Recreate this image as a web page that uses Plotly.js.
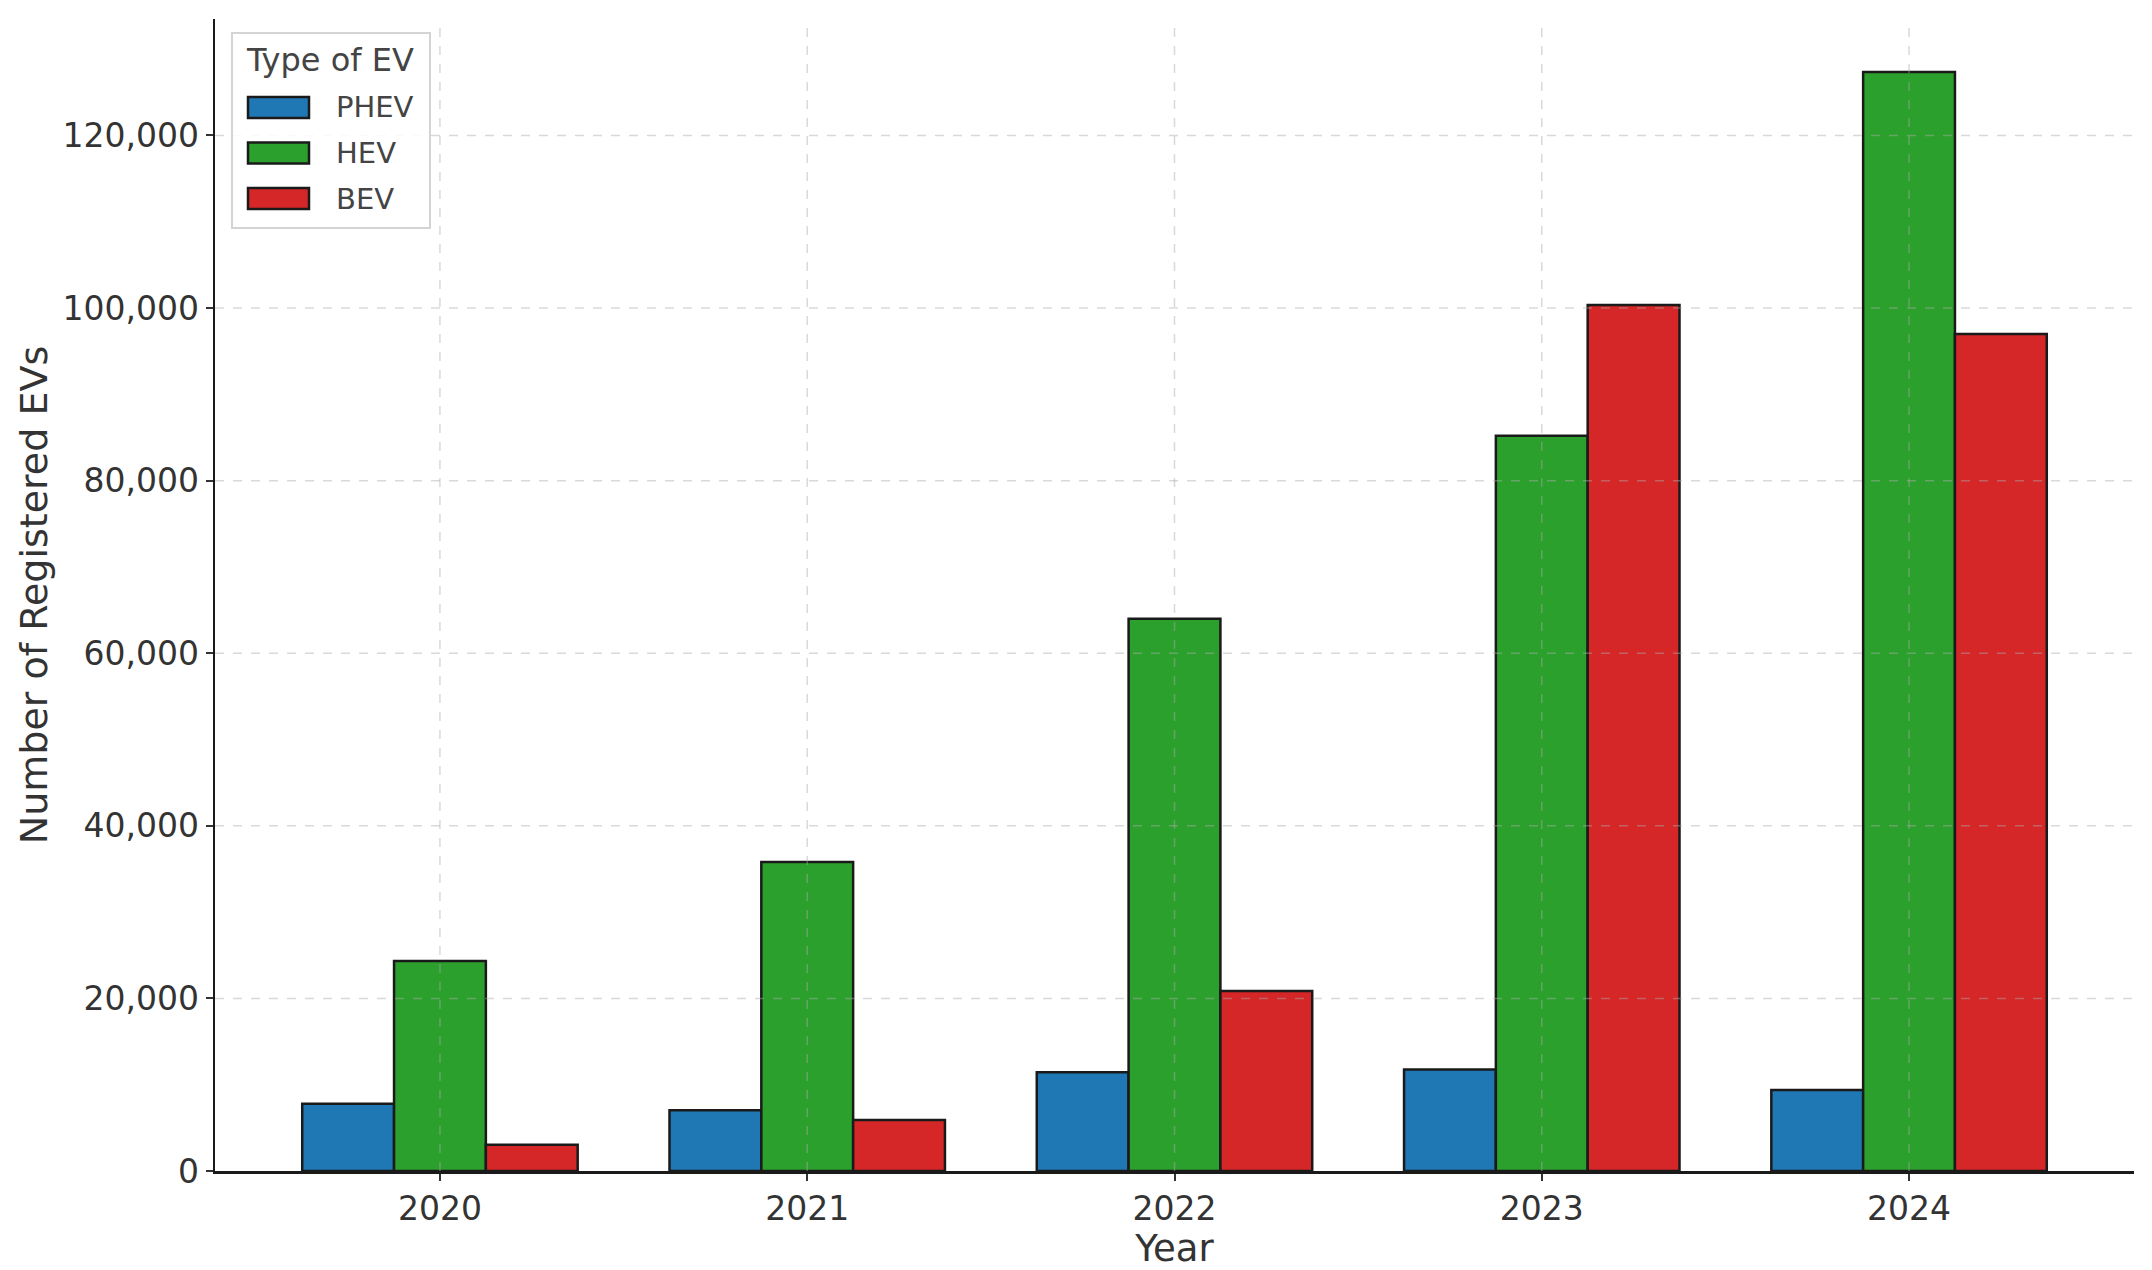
<!DOCTYPE html>
<html>
<head>
<meta charset="utf-8">
<script src="https://cdn.plot.ly/plotly-3.0.1.min.js"></script>
<style>
  html, body { margin: 0; padding: 0; background: #fff; }
  #graphDiv { width: 2152px; height: 1270px; }
</style>
</head>
<body>
<div id="graphDiv"></div>
<script>
// datos
let years = ["2020", "2021", "2022", "2023", "2024"];
let seriesNames = ["PHEV", "HEV", "BEV"];
let phev = [7800, 7050, 11450, 11750, 9400];
let hev = [24350, 35800, 64000, 85200, 127350];
let bev = [3050, 5900, 20850, 100350, 97000];
let yTicks = [0, 20000, 40000, 60000, 80000, 100000, 120000];
let yTickText = ["0", "20,000", "40,000", "60,000", "80,000", "100,000", "120,000"];

let colors = ["#1f77b4", "#2ca02c", "#d62728"];
let values = [phev, hev, bev];
let edge = { color: "#1a1a1a", width: 2.5 };

let data = [];
for (let s = 0; s < seriesNames.length; s++) {
    data.push({ x: years, y: values[s], type: "bar", name: seriesNames[s],
        marker: { color: colors[s], line: edge }, showlegend: false });
}

// area del grafico en pixeles (para la leyenda hecha a mano)
let L = 215, R = 2134, T = 19, B = 1171;
function px(x) { return (x - L) / (R - L); }
function py(y) { return (B - y) / (B - T); }

// grid encima de las barras (como en matplotlib)
let gridStyle = { color: "rgba(170,170,170,0.45)", width: 1.5, dash: "dash" };
let shapes = [];
let annotations = [];
for (let i = 0; i < yTicks.length; i++) {
    if (yTicks[i] == 0) continue;
    shapes.push({ type: "line", layer: "above", xref: "paper", x0: 0, x1: 1,
        yref: "y", y0: yTicks[i], y1: yTicks[i], line: gridStyle });
}
for (let i = 0; i < years.length; i++) {
    shapes.push({ type: "line", layer: "above", xref: "x", x0: i, x1: i,
        yref: "paper", y0: 0, y1: 1, line: gridStyle });
}

// leyenda
shapes.push({ type: "rect", layer: "above", xref: "paper", yref: "paper",
    x0: px(232), x1: px(430), y0: py(33), y1: py(228),
    fillcolor: "rgba(255,255,255,0.85)", line: { color: "#d4d4d4", width: 2 } });
annotations.push({ xref: "paper", yref: "paper", x: px(244), y: py(60),
    xanchor: "left", yanchor: "middle", showarrow: false,
    text: "Type of EV", font: { size: 32, color: "#444" } });
for (let s = 0; s < seriesNames.length; s++) {
    let cy = 107.5 + s * 45.5;
    shapes.push({ type: "rect", layer: "above", xref: "paper", yref: "paper",
        x0: px(248), x1: px(309), y0: py(cy - 10.5), y1: py(cy + 10.5),
        fillcolor: colors[s], line: { color: "#1a1a1a", width: 2.5 } });
    annotations.push({ xref: "paper", yref: "paper", x: px(334), y: py(cy),
        xanchor: "left", yanchor: "middle", showarrow: false,
        text: seriesNames[s], font: { size: 29, color: "#444" } });
}

var layout = {
    width: 2152,
    height: 1270,
    margin: { l: L, r: 2152 - R, t: T, b: 1270 - B },
    paper_bgcolor: "#fff",
    plot_bgcolor: "#fff",
    font: { family: "DejaVu Sans", color: "#333", size: 33 },
    barmode: "group",
    bargap: 0.25,
    bargroupgap: 0,
    showlegend: false,
    xaxis: {
        type: "category",
        range: [-0.6125, 4.6125],
        showgrid: false,
        showline: true, linecolor: "#1a1a1a", linewidth: 2.5,
        ticks: "outside", ticklen: 7, tickwidth: 2, tickcolor: "#333",
        tickfont: { size: 33, color: "#333" },
        title: { text: "Year", font: { size: 37, color: "#333" }, standoff: 4 },
        automargin: false,
        zeroline: false
    },
    yaxis: {
        range: [0, 133500],
        tickvals: yTicks,
        ticktext: yTickText,
        showgrid: false,
        showline: true, linecolor: "#1a1a1a", linewidth: 2.5,
        ticks: "outside", ticklen: 7, tickwidth: 2, tickcolor: "#333",
        tickfont: { size: 33, color: "#333" },
        title: { text: "Number of Registered EVs", font: { size: 38, color: "#333" }, standoff: 3 },
        automargin: false,
        zeroline: false
    },
    shapes: shapes,
    annotations: annotations
};

Plotly.newPlot("graphDiv", data, layout, { staticPlot: true });
</script>
</body>
</html>
